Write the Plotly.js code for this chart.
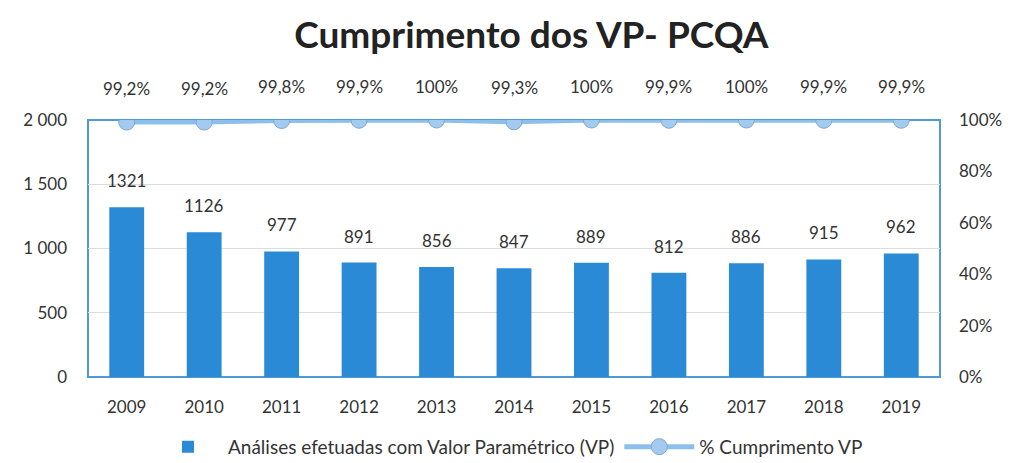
<!DOCTYPE html>
<html><head><meta charset="utf-8">
<script src="https://cdn.plot.ly/plotly-3.0.1.min.js"></script>
<style>html,body{margin:0;padding:0;background:#fff}#chart{width:1016px;height:463px}</style>
</head><body><div id="chart"></div>
<script>
const years = [2009,2010,2011,2012,2013,2014,2015,2016,2017,2018,2019];
const analyses = [1321,1126,977,891,856,847,889,812,886,915,962];
const compliance = [99.2,99.2,99.8,99.9,100,99.3,100,99.9,100,99.9,99.9];
const barName = 'Análises efetuadas com Valor Paramétrico (VP)';
const lineName = '% Cumprimento VP';

const fmtPct = v => (v === 100 ? '100' : v.toFixed(1).replace('.', ',')) + '%';
const FONT = 'Lato, "Open Sans", sans-serif';

const bar = {type:'bar', x:years, y:analyses, name:barName,
  marker:{color:'#2b8ad6'}, width:0.45, hoverinfo:'y'};
const line = {type:'scatter', mode:'lines+markers', x:years, y:compliance, yaxis:'y2', name:lineName,
  line:{color:'#8dbfec', width:5}, marker:{color:'#a3cbef', size:16, line:{color:'#7fa9cf', width:1}}};

const ann = [];
years.forEach((yr,i)=>{
  ann.push({x:yr, y:analyses[i], xref:'x', yref:'y', text:String(analyses[i]), showarrow:false,
    yanchor:'bottom', yshift:14, font:{family:FONT, size:17, color:'#333'}});
  ann.push({x:yr, y:compliance[i], xref:'x', yref:'y2', text:fmtPct(compliance[i]), showarrow:false,
    yanchor:'middle', yshift:34, font:{family:FONT, size:17, color:'#333'}});
});

const layout = {
  width:1016, height:463,
  margin:{l:88, r:76, t:120, b:86, autoexpand:false},
  paper_bgcolor:'#fff', plot_bgcolor:'#fff',
  separators:', ',
  font:{family:FONT, size:17, color:'#333'},
  title:{text:'<b>Cumprimento dos VP- PCQA</b>', x:0.523, xanchor:'center', y:0.925, yanchor:'middle',
    font:{family:FONT, size:37, color:'#222'}},
  xaxis:{type:'linear', range:[years[0]-0.5, years[years.length-1]+0.5], dtick:1, tickformat:'d',
    showgrid:false, zeroline:false, showline:false, ticks:'', ticklabelstandoff:18,
    tickfont:{family:FONT, size:17, color:'#333'}},
  yaxis:{range:[0,2000], dtick:500, tickformat:',', showgrid:true, gridcolor:'#dcdcdc', gridwidth:1,
    zeroline:false, showline:false, ticks:'', ticklabelstandoff:20,
    tickfont:{family:FONT, size:17, color:'#333'}},
  yaxis2:{overlaying:'y', side:'right', range:[0,100], dtick:20, ticksuffix:'%', showgrid:false,
    zeroline:false, showline:false, ticks:'', ticklabelstandoff:18,
    tickfont:{family:FONT, size:17, color:'#333'}},
  showlegend:true,
  legend:{orientation:'h', x:0.5, xanchor:'center', xref:'container', y:0.035, yanchor:'middle', yref:'container',
    font:{family:FONT, size:19, color:'#333'}, itemwidth:70, traceorder:'normal'},
  shapes:[{type:'rect', xref:'paper', yref:'paper', x0:0, x1:1, y0:0, y1:1,
    line:{color:'#4f9ad6', width:2}, layer:'below'}],
  annotations:ann
};
Plotly.newPlot('chart', [bar, line], layout, {displayModeBar:false, staticPlot:true});
</script></body></html>
